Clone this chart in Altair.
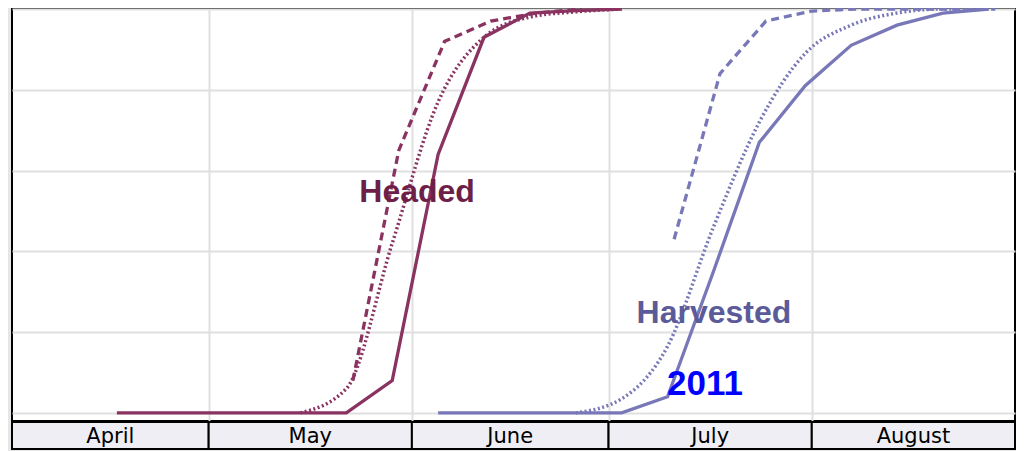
import altair as alt
import pandas as pd

# ---------------- data ----------------
headed_2011_dates = ["2011-04-17", "2011-04-24", "2011-05-01", "2011-05-08", "2011-05-15",
                     "2011-05-22", "2011-05-29", "2011-06-05", "2011-06-12", "2011-06-19",
                     "2011-06-26", "2011-07-03"]
headed_2011_vals = [0, 0, 0, 0, 0, 0, 8, 64, 93, 99, 99.6, 100]

# previous year (weekly dates of that year, one day later on the calendar)
headed_prev_dates = ["2011-05-23", "2011-05-30", "2011-06-06", "2011-06-13", "2011-06-20", "2011-06-27"]
headed_prev_vals = [8, 65, 92, 97, 99, 100]

headed_avg_dates = ["2011-05-15", "2011-05-22", "2011-05-29", "2011-06-05", "2011-06-12",
                    "2011-06-19", "2011-06-26", "2011-07-03"]
headed_avg_vals = [0, 6, 42, 77, 93, 98, 99.3, 100]

harv_2011_dates = ["2011-06-05", "2011-06-12", "2011-06-19", "2011-06-26", "2011-07-03",
                   "2011-07-10", "2011-07-17", "2011-07-24", "2011-07-31", "2011-08-07",
                   "2011-08-14", "2011-08-21", "2011-08-28"]
harv_2011_vals = [0, 0, 0, 0, 0, 4, 35, 67, 81, 91, 96, 99, 100]

harv_prev_dates = ["2011-07-11", "2011-07-18", "2011-07-25", "2011-08-01", "2011-08-08",
                   "2011-08-15", "2011-08-22", "2011-08-29"]
harv_prev_vals = [43, 84, 97, 99.5, 100, 100, 100, 100]

harv_avg_dates = ["2011-06-26", "2011-07-03", "2011-07-10", "2011-07-17", "2011-07-24",
                  "2011-07-31", "2011-08-07", "2011-08-14", "2011-08-21", "2011-08-28"]
harv_avg_vals = [0, 3.5, 16.5, 46, 72, 89, 96, 99, 100, 100]

months = ["April", "May", "June", "July", "August"]
month_starts = ["2011-04-01", "2011-05-01", "2011-06-01", "2011-07-01", "2011-08-01"]
month_ends = ["2011-05-01", "2011-06-01", "2011-07-01", "2011-08-01", "2011-09-01"]

ann_labels = ["Headed", "Harvested", "2011"]
ann_dates = ["2011-06-01T19:00Z", "2011-07-17T02:00Z", "2011-07-15T17:00Z"]
ann_values = [52.2, 22.3, 4.4]
ann_colors = ["#6e1f47", "#5b5b99", "#0000ff"]
ann_sizes = [32, 32, 35]

y_ticks = [0, 20, 40, 60, 80, 100]

# ---------------- tables ----------------
def series(dates, vals, stage, kind):
    return pd.DataFrame({"date": dates, "value": vals, "stage": stage, "kind": kind})

lines_df = pd.concat([
    series(headed_2011_dates, headed_2011_vals, "Headed", "2011"),
    series(headed_prev_dates, headed_prev_vals, "Headed", "prev"),
    series(headed_avg_dates, headed_avg_vals, "Headed", "avg"),
    series(harv_2011_dates, harv_2011_vals, "Harvested", "2011"),
    series(harv_prev_dates, harv_prev_vals, "Harvested", "prev"),
    series(harv_avg_dates, harv_avg_vals, "Harvested", "avg"),
], ignore_index=True)

ms = pd.to_datetime(month_starts)
me = pd.to_datetime(month_ends)
mid = ms + (me - ms) / 2
month_df = pd.DataFrame({
    "month": months,
    "start": month_starts,
    "end": month_ends,
    "mid": [m.strftime("%Y-%m-%dT%H:%M:%SZ") for m in mid],
})

ann_df = pd.DataFrame({"label": ann_labels, "date": ann_dates, "value": ann_values,
                       "color": ann_colors, "size": ann_sizes})

# ---------------- scales / axes ----------------
xscale = alt.Scale(type="utc", domain=[alt.DateTime(year=2011, month=4, date=1, utc=True),
                                       alt.DateTime(year=2011, month=9, date=1, utc=True)])
xaxis = alt.Axis(values=[alt.DateTime(year=2011, month=m, date=1, utc=True) for m in [5, 6, 7, 8]],
                 labels=False, ticks=False, domain=False, title=None,
                 grid=True, gridColor="#e0e0e0", gridWidth=2)
yscale = alt.Scale(domain=[-2, 100], nice=False, zero=False)
yaxis = alt.Axis(values=y_ticks, labels=False, ticks=False, domain=False, title=None,
                 grid=True, gridColor="#e0e0e0", gridWidth=2)

color_scale = alt.Scale(domain=["Headed", "Harvested"], range=["#8a3360", "#7878b8"])

def X(field):
    return alt.X(field, type="temporal", scale=xscale, axis=xaxis)

base = alt.Chart(lines_df)

solid = base.transform_filter(alt.datum.kind == "2011").mark_line(
    strokeWidth=3.3, interpolate="linear"
).encode(
    x=X("date"), y=alt.Y("value:Q", scale=yscale, axis=yaxis),
    color=alt.Color("stage:N", scale=color_scale, legend=None),
    detail="stage:N",
)

dashed = base.transform_filter(alt.datum.kind == "prev").mark_line(
    strokeWidth=3.3, strokeDash=[8, 5], interpolate="linear"
).encode(
    x=X("date"), y=alt.Y("value:Q", scale=yscale, axis=yaxis),
    color=alt.Color("stage:N", scale=color_scale, legend=None),
    detail="stage:N",
)

dotted = base.transform_filter(alt.datum.kind == "avg").mark_line(
    strokeWidth=3.5, strokeDash=[2, 2.5], interpolate="monotone"
).encode(
    x=X("date"), y=alt.Y("value:Q", scale=yscale, axis=yaxis),
    color=alt.Color("stage:N", scale=color_scale, legend=None),
    detail="stage:N",
)

month_bar = alt.Chart(month_df).mark_rect(
    fill="#eeeef4", stroke="black", strokeWidth=2
).encode(
    x=X("start"), x2="end",
    y=alt.value(413), y2=alt.value(440),
)

month_text = alt.Chart(month_df).mark_text(
    font="DejaVu Sans", fontSize=21, color="black", baseline="alphabetic", align="center"
).encode(
    x=X("mid"), y=alt.value(434), text="month:N",
)

ann = alt.Chart(ann_df).mark_text(
    font="Liberation Sans", fontWeight="bold", baseline="alphabetic", align="center"
).encode(
    x=X("date"), y=alt.Y("value:Q", scale=yscale, axis=yaxis),
    text="label:N",
    color=alt.Color("color:N", scale=None),
    size=alt.Size("size:Q", scale=None),
)

chart = alt.layer(dotted, dashed, solid, ann, month_bar, month_text).properties(
    width=1003, height=412,
    padding={"left": 4, "top": 1, "right": 1, "bottom": 30},
    autosize=alt.AutoSizeParams(type="none"),
    background="#e6e6e6",
).configure_view(
    fill="white", stroke="black", strokeWidth=2
)

chart.save("out.html", embed_options={"renderer": "svg", "actions": False})
